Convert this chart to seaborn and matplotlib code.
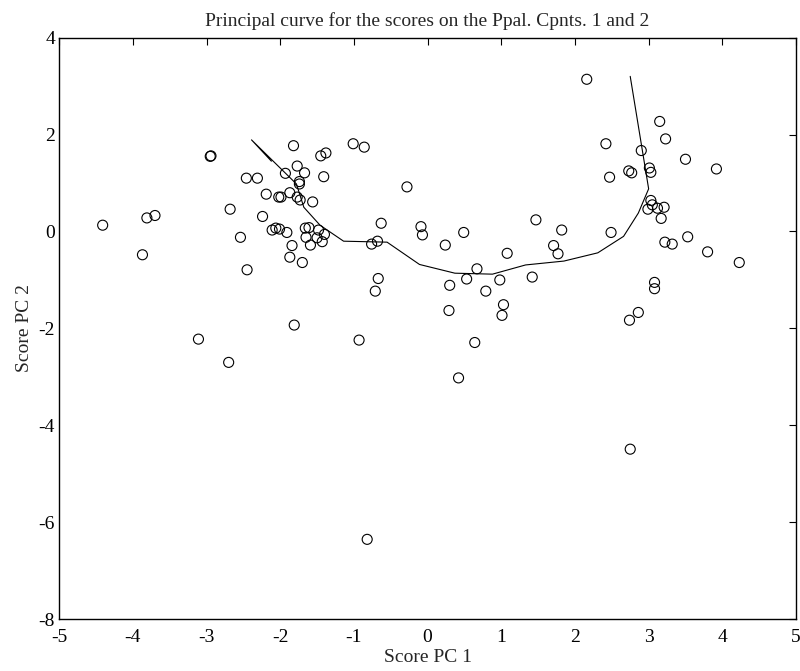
import numpy as np
import pandas as pd
import matplotlib
matplotlib.use("Agg")
import matplotlib.pyplot as plt
import seaborn as sns

# scores on principal components 1 and 2
pc1 = [-4.41, -3.81, -3.70, -3.87, -2.95, -2.94, -2.68, -2.54, -2.46, -2.31,
       -2.45, -2.19, -2.24, -2.11, -2.06, -2.01, -1.91, -2.02, -1.99, -1.87,
       -1.93, -1.82, -1.77, -1.74, -1.74, -1.67, -1.77, -1.73, -1.56, -1.84,
       -1.87, -1.70, -1.66, -1.61, -1.65, -1.59, -1.48, -1.50, -1.40, -1.43,
       -1.45, -1.38, -1.41, -1.01, -0.86, -0.76, -0.68, -0.63, -0.67, -0.71,
       -1.81, -3.11, -2.70, -0.93, 0.64, 0.42, 2.75, -0.82,
       -0.28, -0.09, -0.07, 0.24, 0.49, 0.30, 0.29, 0.53, 0.67, 0.79,
       0.98, 1.03, 1.01, 1.08, 1.42, 1.47, 1.71, 1.77, 1.82, 2.16,
       2.42, 2.47, 2.49, 2.73, 2.77, 2.90, 3.01, 3.03, 3.03, 3.05,
       2.99, 3.12, 3.21, 3.17, 3.15, 3.23, 3.50, 3.92, 3.22, 3.32,
       3.53, 3.80, 4.23, 3.08, 3.08, 2.86, 2.74]
pc2 = [0.13, 0.28, 0.33, -0.48, 1.55, 1.56, 0.46, -0.12, 1.10, 1.10,
       -0.79, 0.77, 0.31, 0.03, 0.07, 0.05, -0.02, 0.71, 0.71, 0.80,
       1.20, 1.77, 1.35, 1.03, 0.98, 1.21, 0.71, 0.65, 0.61, -0.29,
       -0.53, -0.64, 0.07, 0.08, -0.12, -0.28, 0.03, -0.13, -0.06, -0.21,
       1.56, 1.62, 1.13, 1.81, 1.74, -0.26, -0.20, 0.17, -0.97, -1.23,
       -1.93, -2.22, -2.70, -2.24, -2.29, -3.02, -4.49, -6.35,
       0.92, 0.10, -0.07, -0.28, -0.02, -1.11, -1.63, -0.98, -0.77, -1.23,
       -1.00, -1.51, -1.73, -0.45, -0.94, 0.24, -0.29, -0.46, 0.03, 3.14,
       1.81, 1.12, -0.02, 1.25, 1.21, 1.67, 1.31, 1.22, 0.64, 0.55,
       0.46, 0.48, 0.50, 0.27, 2.27, 1.91, 1.49, 1.29, -0.22, -0.26,
       -0.11, -0.42, -0.64, -1.05, -1.18, -1.67, -1.83]

# principal curve vertices
curve_x = [-2.12, -2.39, -1.78, -1.68, -1.46, -1.14, -0.55, -0.11, 0.37, 0.88,
           1.33, 1.85, 2.31, 2.66, 2.86, 3.00, 2.75]
curve_y = [1.45, 1.89, 0.98, 0.50, 0.13, -0.20, -0.22, -0.68, -0.86, -0.88,
           -0.69, -0.61, -0.44, -0.10, 0.38, 0.88, 3.20]

scores = pd.DataFrame({'pc1': pc1, 'pc2': pc2})
curve = pd.DataFrame({'x': curve_x, 'y': curve_y})

sns.set_style("white")
plt.rcParams['font.family'] = ['Liberation Serif', 'DejaVu Serif']
plt.rcParams['axes.unicode_minus'] = False

fig = plt.figure(figsize=(8, 6.71), dpi=100)
ax = fig.add_axes([0.074, 0.077, 0.921, 0.867])

sns.scatterplot(data=scores, x='pc1', y='pc2', ax=ax, marker='o', s=52,
                facecolors='none', edgecolor='black', linewidth=0.8)
sns.lineplot(data=curve, x='x', y='y', ax=ax, sort=False, estimator=None,
             color='black', linewidth=0.8)

ax.set_xlim(-5, 5)
ax.set_ylim(-8, 4)
ax.set_xticks(np.arange(-5, 6, 1))
ax.set_yticks(np.arange(-8, 5, 2))
ax.tick_params(direction='in', top=True, right=True, length=5, width=0.8,
               labelsize=14, colors='black')
ax.tick_params(axis='x', pad=7)
ax.tick_params(axis='y', pad=3)
for sp in ax.spines.values():
    sp.set_color('black')
    sp.set_linewidth(1.0)

ax.set_title('Principal curve for the scores on the Ppal. Cpnts. 1 and 2', fontsize=14, pad=8)
ax.set_xlabel('Score PC 1', fontsize=14, labelpad=2)
ax.set_ylabel('Score PC 2', fontsize=14, labelpad=4)

fig.savefig('out.png', dpi=100)
